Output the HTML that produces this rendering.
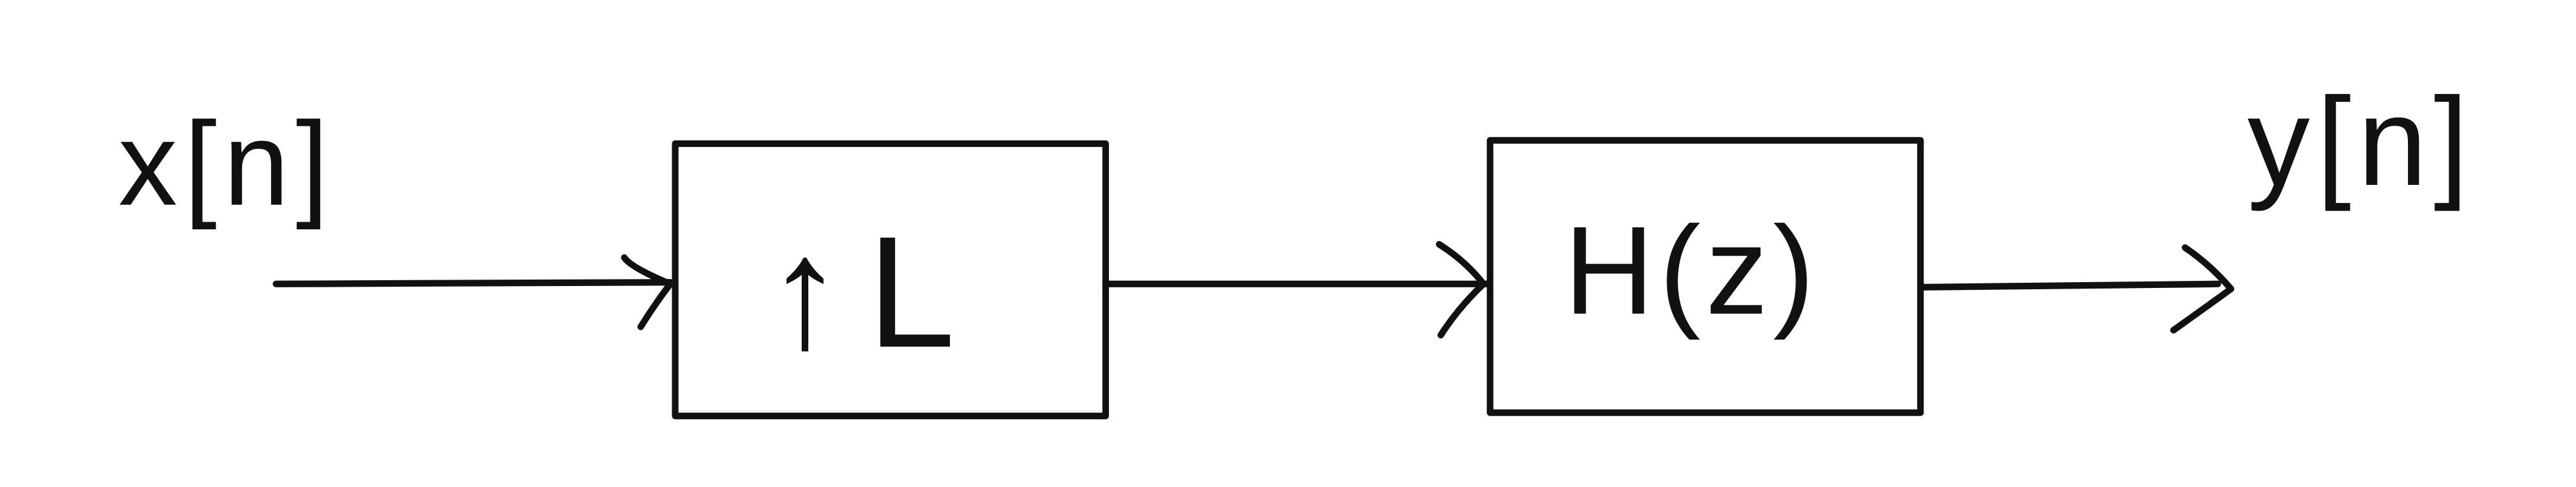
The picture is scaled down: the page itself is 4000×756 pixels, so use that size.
<!DOCTYPE html>
<html><head><meta charset="utf-8"><style>
html,body{margin:0;padding:0;background:#fff;}
svg{display:block;}
text{font-family:"Liberation Sans",sans-serif;fill:#111;}
</style></head><body>
<svg width="4000" height="756" viewBox="0 0 1568 295" preserveAspectRatio="none" xmlns="http://www.w3.org/2000/svg">
<rect width="1568" height="295" fill="#fff"/>
<g stroke="#111" stroke-width="4" fill="none" stroke-linecap="round" stroke-linejoin="round">
  <rect x="411" y="87" width="262" height="165"/>
  <rect x="907" y="85" width="262" height="165"/>
  <g>
    <path d="M168 172 L408 171"/>
    <path d="M380 156 Q384 162 408 172 Q398 185 390 198"/>
  </g>
  <g>
    <path d="M673 172 L905 172"/>
    <path d="M876 148 Q892 158 903 172 Q888 186 877 203"/>
  </g>
  <g>
    <path d="M1169 174 L1350 172"/>
    <path d="M1330 150 Q1345 160 1358 175 Q1340 188 1323 200"/>
  </g>
</g>
<text x="72" y="124" font-size="72" letter-spacing="4">x[n]</text>
<text x="466" y="210" font-size="96" letter-spacing="14">↑L</text>
<text x="952" y="190" font-size="76" letter-spacing="3">H(z)</text>
<text x="1368" y="112" font-size="76" letter-spacing="4">y[n]</text>
</svg>
</body></html>
